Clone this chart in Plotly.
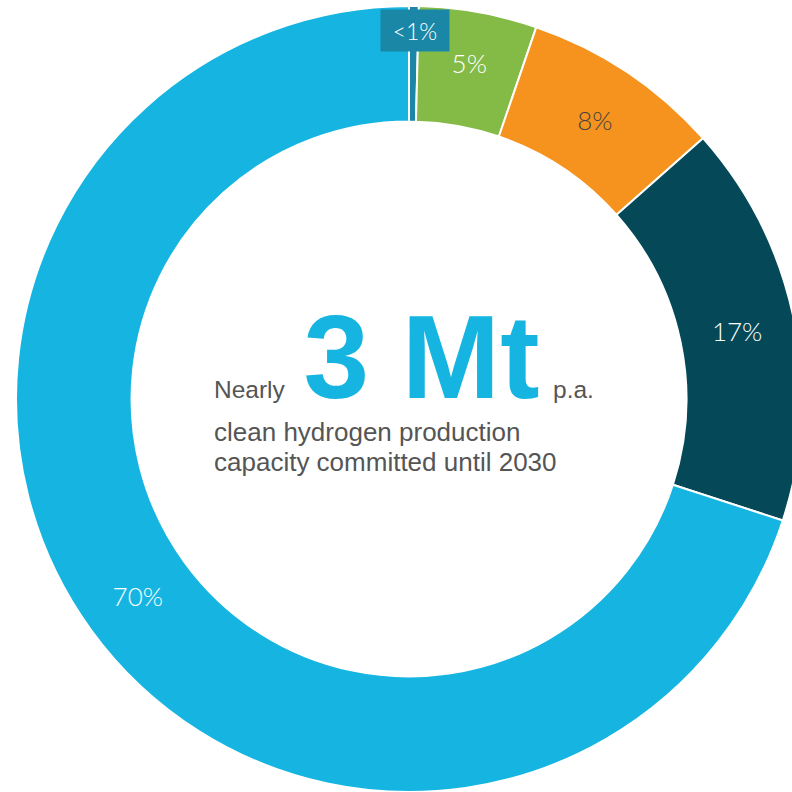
import plotly.graph_objects as go

# Data
labels = ["<1%", "5%", "8%", "17%", "70%"]
values = [0.4, 4.85, 8.2, 16.55, 70.0]
colors = ["#1B87A6", "#84BB46", "#F6921E", "#054958", "#16B5E1"]
text_colors = ["#FFFFFF", "#FFFFFF", "#444444", "#FFFFFF", "#FFFFFF"]
shown_text = ["", "5%", "8%", "17%", "70%"]

W, H = 802, 792
L, T, B, R = 16, 6, 0, 0
PW, PH = W - L - R, H - T - B


def px(x):
    return (x - L) / PW


def py(y):
    return 1 - (y - T) / PH


fig = go.Figure()
fig.add_trace(go.Pie(
    labels=labels,
    values=values,
    text=shown_text,
    textinfo="text",
    textposition="inside",
    insidetextorientation="horizontal",
    insidetextfont=dict(family="Lato", size=26, color=text_colors, weight=300),
    marker=dict(colors=colors, line=dict(color="#FFFFFF", width=2)),
    hole=0.706,
    sort=False,
    direction="clockwise",
    rotation=0,
    showlegend=False,
    hoverinfo="label",
    domain=dict(x=[0, 1], y=[0, 1]),
))

# "<1%" label box
fig.add_annotation(
    x=px(415), y=py(30.5), xref="paper", yref="paper",
    text="&lt;1%", showarrow=False,
    font=dict(family="Lato", size=23, color="#FFFFFF", weight=300),
    bgcolor="#1B87A6", width=58, height=31, borderpad=5,
    xanchor="center", yanchor="middle",
)

# Centre text
fig.add_annotation(
    x=px(212), y=py(425), xref="paper", yref="paper",
    text="Nearly<span style='font-size:18px'> </span>  <span style='font-size:118px;color:#16B5E1'><b>3 Mt</b></span>  p.a.",
    showarrow=False, xanchor="left", yanchor="bottom",
    font=dict(family="Liberation Sans", size=24.5, color="#555555"),
)
fig.add_annotation(
    x=px(212), y=py(432), xref="paper", yref="paper",
    text="clean hydrogen production",
    showarrow=False, xanchor="left", yanchor="middle", align="left",
    font=dict(family="Liberation Sans", size=26, color="#555555"),
)
fig.add_annotation(
    x=px(212), y=py(462), xref="paper", yref="paper",
    text="capacity committed until 2030",
    showarrow=False, xanchor="left", yanchor="middle", align="left",
    font=dict(family="Liberation Sans", size=26, color="#555555"),
)

fig.update_layout(
    width=W, height=H,
    margin=dict(l=L, r=R, t=T, b=B),
    paper_bgcolor="#FFFFFF",
    plot_bgcolor="#FFFFFF",
)

fig.write_html(
    "out.html",
    config={"displayModeBar": False},
    post_script="document.body.style.margin='0';document.body.style.overflow='hidden';",
)
